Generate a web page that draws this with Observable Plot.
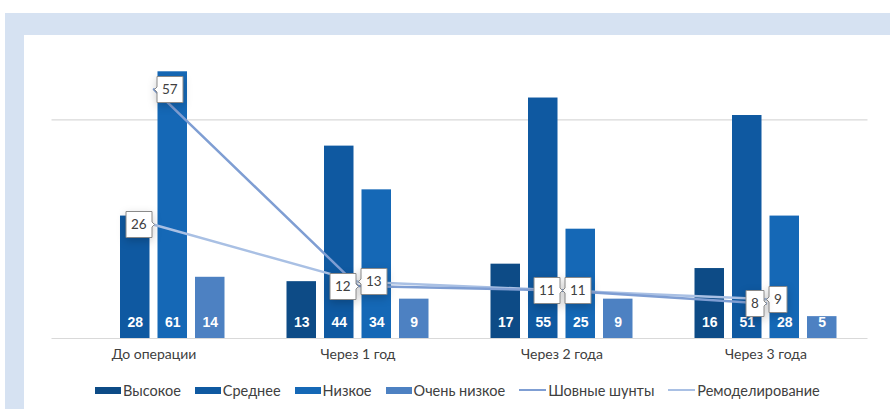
<!DOCTYPE html>
<html>
<head>
<meta charset="utf-8">
<script src="https://cdn.jsdelivr.net/npm/d3@7"></script>
<script src="https://cdn.jsdelivr.net/npm/@observablehq/plot@0.6"></script>
<style>
  html, body { margin: 0; padding: 0; }
  body { width: 890px; height: 409px; position: relative; background: #fff; overflow: hidden; font-family: Lato, "Open Sans", sans-serif; }
  .band { position: absolute; background: #d6e2f2; }
  #chart { position: absolute; left: 24px; top: 35px; }
  #legend { position: absolute; left: 95px; top: 380px; height: 20px; display: flex; align-items: center; gap: 14px; font-size: 14.5px; color: #404040; white-space: nowrap; }
  .item { display: flex; align-items: center; gap: 2px; }
  .sw { width: 26px; height: 7px; }
  .ln { width: 27px; height: 2.5px; }
</style>
</head>
<body>
<div class="band" style="left:5px;top:13px;width:885px;height:22px"></div>
<div class="band" style="left:5px;top:13px;width:19px;height:396px"></div>
<div id="chart"></div>
<div id="legend"></div>
<script>
const categories = ["До операции", "Через 1 год", "Через 2 года", "Через 3 года"];
const seriesNames = ["Высокое", "Среднее", "Низкое", "Очень низкое"];
const vysokoe = [null, 13, 17, 16];
const srednee = [28, 44, 55, 51];
const nizkoe = [61, 34, 25, 28];
const ochenNizkoe = [14, 9, 9, 5];
const lineNames = ["Шовные шунты", "Ремоделирование"];
const shovnyeShunty = [57, 12, 11, 8];
const remodelirovanie = [26, 13, 11, 9];
const gridValues = [0, 50];

const barColors = ["#0d4b86", "#0f59a1", "#1568b6", "#4d81c2"];
const lineColors = ["#7f9ed3", "#a9c0e4"];

const SLOT = 37.5 / 204;
const HALF = 14.75 / 204;

const seriesValues = [vysokoe, srednee, nizkoe, ochenNizkoe];
const bars = [];
seriesValues.forEach((vals, si) => vals.forEach((v, ci) => {
  if (v != null) bars.push({ci, si, series: seriesNames[si], v, xc: ci + (si - 1.5) * SLOT});
}));

const lineValues = [shovnyeShunty, remodelirovanie];
const lines = [];
lineValues.forEach((vals, li) => vals.forEach((v, ci) => lines.push({ci, li, name: lineNames[li], v})));

// label side per line point: "left" anchor = box to the right of the point
const sides = [["left", "right", "right", "right"], ["right", "left", "left", "left"]];
const tipMarks = [];
["left", "right"].forEach(anchor => {
  tipMarks.push(Plot.tip(lines.filter(d => sides[d.li][d.ci] === anchor), {
    x: "ci", y: "v", title: d => String(d.v), anchor,
    fill: "white", stroke: "#8a8a8a", fontSize: 13.5, textPadding: 5, pointerSize: 5,
    fontFamily: "Lato"
  }));
});

const chart = Plot.plot({
  width: 866,
  height: 335,
  marginLeft: 27.5,
  marginRight: 22.5,
  marginTop: 0,
  marginBottom: 32,
  style: {background: "transparent", fontFamily: "Lato, sans-serif", fontSize: "14px", color: "#404040", overflow: "visible"},
  x: {domain: [-0.5, 3.5], label: null},
  y: {domain: [0, 69.3], axis: null},
  color: {domain: seriesNames, range: barColors},
  marks: [
    Plot.ruleY(gridValues, {stroke: "#d9d9d9", strokeWidth: 1.2}),
    Plot.rectY(bars, {x1: d => d.xc - HALF, x2: d => d.xc + HALF, y: "v", fill: "series"}),
    Plot.text(bars, {x: "xc", y: 0, dy: -16, text: d => String(d.v), fill: "white", fontWeight: "bold", fontSize: 14, fontFamily: "Liberation Sans, Arial, sans-serif"}),
    Plot.line(lines.filter(d => d.li === 1), {x: "ci", y: "v", stroke: lineColors[1], strokeWidth: 2.5}),
    Plot.line(lines.filter(d => d.li === 0), {x: "ci", y: "v", stroke: lineColors[0], strokeWidth: 2.5}),
    ...tipMarks,
    Plot.axisX({ticks: [0, 1, 2, 3], tickFormat: i => categories[i], tickSize: 0, tickPadding: 11, fontSize: 14, label: null})
  ]
});
document.getElementById("chart").appendChild(chart);

const legend = document.getElementById("legend");
seriesNames.forEach((n, i) => {
  const it = document.createElement("div"); it.className = "item";
  it.innerHTML = `<span class="sw" style="background:${barColors[i]}"></span><span>${n}</span>`;
  legend.appendChild(it);
});
lineNames.forEach((n, i) => {
  const it = document.createElement("div"); it.className = "item";
  it.innerHTML = `<span class="ln" style="background:${lineColors[i]}"></span><span>${n}</span>`;
  legend.appendChild(it);
});
</script>
</body>
</html>
